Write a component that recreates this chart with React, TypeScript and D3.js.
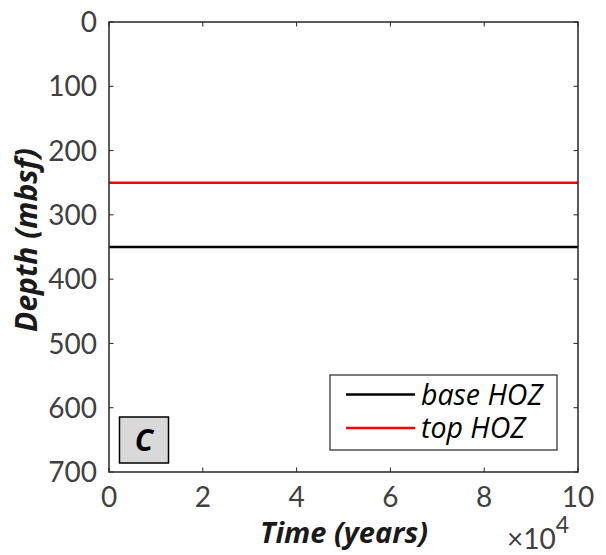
import React from "react";
import * as d3 from "d3";

const timeYears = [0, 100000];
const baseHOZ = [350, 350];
const topHOZ = [250, 250];
const xTicks = [0, 2, 4, 6, 8, 10];
const yTicks = [0, 100, 200, 300, 400, 500, 600, 700];
const seriesNames = ["base HOZ", "top HOZ"];
const seriesColors = ["#000000", "#ff0000"];
const panelLabel = "C";

const W = 606, H = 555;
const L = 109, R = 578, T = 22, B = 472;
const FONT = "Lato, 'Open Sans', sans-serif";
const LFONT = "'Open Sans', Lato, sans-serif";

export default function App() {
  const x = d3.scaleLinear().domain([0, 10]).range([L, R]);
  const y = d3.scaleLinear().domain([0, 700]).range([T, B]);
  const line = d3.line<[number, number]>().x(d => x(d[0] / 1e4)).y(d => y(d[1]));
  const series = [baseHOZ, topHOZ].map(s => timeYears.map((t, i) => [t, s[i]] as [number, number]));
  const axisColor = "#262626";
  return (
    <div style={{ position: "absolute", left: 0, top: 0 }}>
      <svg width={W} height={H} style={{ display: "block", background: "#fff" }}>
        {series.map((s, i) => (
          <path key={i} d={line(s) || ""} fill="none" stroke={seriesColors[i]} strokeWidth={2.6} />
        ))}
        {xTicks.map(t => (
          <g key={"xt" + t}>
            <line x1={x(t)} x2={x(t)} y1={B} y2={B - 4.5} stroke={axisColor} strokeWidth={1} />
            <line x1={x(t)} x2={x(t)} y1={T} y2={T + 4.5} stroke={axisColor} strokeWidth={1} />
            <text x={x(t)} y={B + 35} textAnchor="middle" fontFamily={FONT} fontSize={28} fill="#404040">{t}</text>
          </g>
        ))}
        {yTicks.map(t => (
          <g key={"yt" + t}>
            <line x1={L} x2={L + 4.5} y1={y(t)} y2={y(t)} stroke={axisColor} strokeWidth={1} />
            <line x1={R} x2={R - 4.5} y1={y(t)} y2={y(t)} stroke={axisColor} strokeWidth={1} />
            <text x={97} y={y(t)} dy="0.36em" textAnchor="end" fontFamily={FONT} fontSize={28} fill="#404040">{t}</text>
          </g>
        ))}
        <rect x={L} y={T} width={R - L} height={B - T} fill="none" stroke={axisColor} strokeWidth={1.5} />
        <text x={507} y={549} fontFamily={FONT} fontSize={28} fill="#404040">
          <tspan>×10</tspan>
          <tspan dy={-16} fontSize={23}>4</tspan>
        </text>
        <text x={344} y={543} textAnchor="middle" fontFamily={LFONT} fontSize={29} fontWeight="bold" fontStyle="italic" fill="#1a1a1a">Time (years)</text>
        <text transform={`translate(37,${240}) rotate(-90)`} textAnchor="middle" fontFamily={LFONT} fontSize={30} fontWeight="bold" fontStyle="italic" fill="#1a1a1a">Depth (mbsf)</text>
        <rect x={330} y={375} width={227} height={75} fill="#fff" stroke={axisColor} strokeWidth={1.2} />
        {seriesNames.map((n, i) => (
          <g key={n}>
            <line x1={346} x2={415} y1={394.5 + i * 33.5} y2={394.5 + i * 33.5} stroke={seriesColors[i]} strokeWidth={2.6} />
            <text x={421} y={394.5 + i * 33.5} dy="0.36em" fontFamily={LFONT} fontSize={28.5} fontStyle="italic" fill="#000">{n}</text>
          </g>
        ))}
        <rect x={119.5} y={417} width={49} height={46} fill="#d9d9d9" stroke="#000" strokeWidth={1.5} />
        <text x={144} y={440} dy="0.36em" textAnchor="middle" fontFamily={LFONT} fontSize={30} fontWeight="bold" fontStyle="italic" fill="#000">{panelLabel}</text>
      </svg>
    </div>
  );
}
